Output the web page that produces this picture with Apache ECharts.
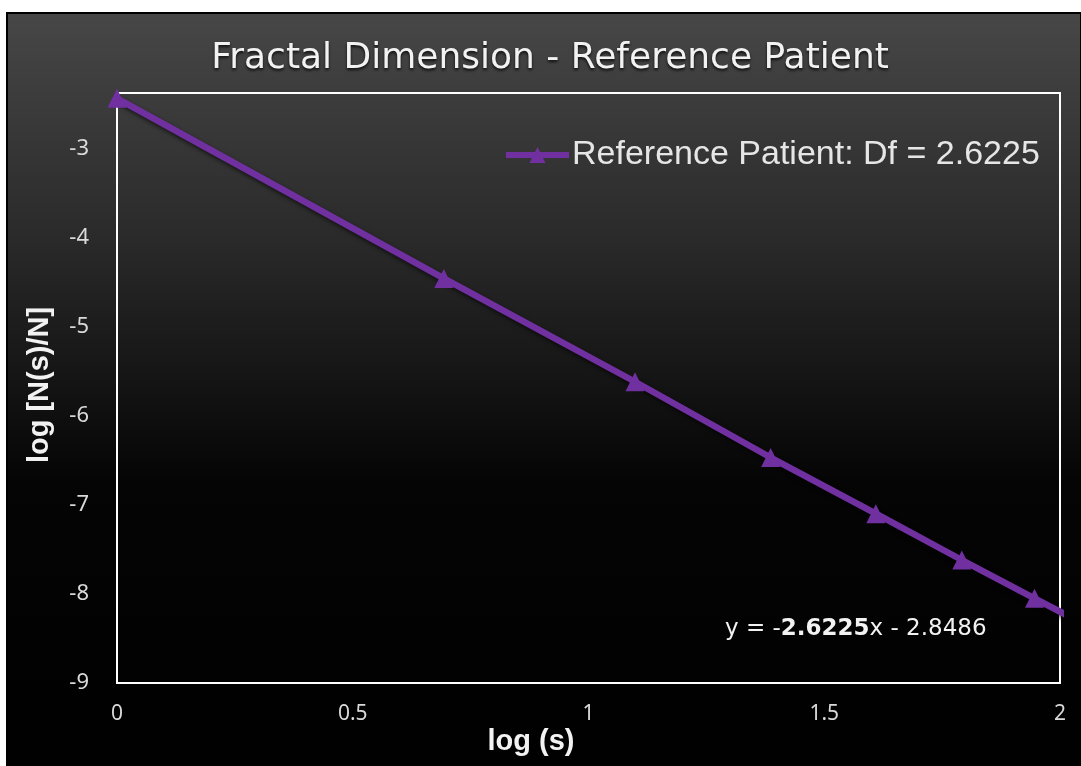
<!DOCTYPE html>
<html>
<head>
<meta charset="utf-8">
<title>Fractal Dimension - Reference Patient</title>
<script src="https://cdn.jsdelivr.net/npm/echarts@6/dist/echarts.min.js"></script>
<style>
  html, body { margin: 0; padding: 0; background: #ffffff; }
  #chart { width: 1081px; height: 766px; }
</style>
</head>
<body>
<div id="chart"></div>
<script>
// log(s) = ln(box size) and log[N(s)/N] for the reference patient
const logS = [0, 0.6931, 1.0986, 1.3863, 1.6094, 1.7918, 1.9459, 2.0794];
const logN = [-2.44, -4.46, -5.62, -6.47, -7.10, -7.62, -8.05, -8.42];
const yTicks = [-9, -8, -7, -6, -5, -4, -3];
const xTicks = [0, 0.5, 1, 1.5, 2];
const seriesName = 'Reference Patient: Df = 2.6225';
const slope = 2.6225;
const intercept = 2.8486;

const chart = echarts.init(document.getElementById('chart'));

const labelColor = '#d9d9d9';
const purple = '#7030a0';

chart.setOption({
  backgroundColor: '#ffffff',
  animation: false,
  title: {
    text: 'Fractal Dimension - Reference Patient',
    left: 545,
    textAlign: 'center',
    top: 36,
    textStyle: {
      color: '#f2f2f2',
      fontFamily: '"DejaVu Sans", sans-serif',
      fontWeight: 'normal',
      fontSize: 36,
      textShadowColor: 'rgba(0,0,0,0.8)',
      textShadowBlur: 3,
      textShadowOffsetY: 2
    }
  },
  legend: {
    left: 503,
    top: 138,
    padding: 0,
    itemWidth: 63,
    itemHeight: 20,
    itemGap: 4,
    data: [seriesName],
    lineStyle: { width: 6 },
    textStyle: {
      color: '#e6e6e6',
      fontFamily: '"Liberation Sans", Arial, sans-serif',
      fontSize: 34,
      padding: [0, 0, 0, -2]
    }
  },
  grid: {
    left: 117,
    top: 93,
    right: 21,
    bottom: 83,
    show: true,
    borderColor: '#ffffff',
    borderWidth: 2,
    backgroundColor: 'transparent'
  },
  xAxis: {
    type: 'value',
    min: xTicks[0],
    max: xTicks[xTicks.length - 1],
    interval: 0.5,
    axisLine: { show: true, lineStyle: { color: '#ffffff', width: 2 } },
    axisTick: { show: false },
    splitLine: { show: false },
    axisLabel: {
      color: labelColor,
      fontFamily: '"Noto Sans", "Open Sans", sans-serif',
      fontSize: 21,
      margin: 21,
      formatter: v => (xTicks.indexOf(v) >= 0 ? String(v) : '')
    }
  },
  yAxis: {
    type: 'value',
    min: -9,
    max: -2.38,
    interval: 1,
    axisLine: { show: true, lineStyle: { color: '#ffffff', width: 2 } },
    axisTick: { show: false },
    splitLine: { show: false },
    axisLabel: {
      color: labelColor,
      fontFamily: '"Noto Sans", "Open Sans", sans-serif',
      fontSize: 22,
      margin: 28,
      formatter: v => (yTicks.indexOf(v) >= 0 ? String(v) : '')
    }
  },
  graphic: [
    {
      type: 'rect',
      z: -100,
      shape: { x: 7, y: 13, width: 1074, height: 753 },
      style: {
        fill: new echarts.graphic.LinearGradient(0, 0, 0, 1, [
          { offset: 0, color: '#474747' },
          { offset: 0.3, color: '#2a2a2a' },
          { offset: 0.62, color: '#050505' },
          { offset: 1, color: '#000000' }
        ]),
        stroke: '#000000',
        lineWidth: 2
      }
    },
    {
      type: 'text',
      x: 531,
      y: 742,
      style: {
        text: 'log (s)',
        fill: '#f2f2f2',
        font: 'bold 29px "Liberation Sans", Arial, sans-serif',
        align: 'center',
        verticalAlign: 'middle'
      }
    },
    {
      type: 'text',
      x: 40,
      y: 385,
      rotation: Math.PI / 2,
      style: {
        text: 'log [N(s)/N]',
        fill: '#f2f2f2',
        font: 'bold 29px "Liberation Sans", Arial, sans-serif',
        align: 'center',
        verticalAlign: 'middle'
      }
    },
    {
      type: 'text',
      x: 725,
      y: 629,
      style: {
        text: '{n|y = -}{b|' + slope.toFixed(4) + '}{n|x - ' + intercept.toFixed(4) + '}',
        verticalAlign: 'middle',
        rich: {
          n: { fill: '#f2f2f2', font: '23px "DejaVu Sans", sans-serif' },
          b: { fill: '#f2f2f2', font: 'bold 23px "DejaVu Sans", sans-serif' }
        }
      }
    }
  ],
  series: [
    {
      name: seriesName,
      type: 'line',
      clip: true,
      data: logS.map((x, i) => [x, logN[i]]),
      symbol: 'triangle',
      symbolSize: 19,
      showAllSymbol: true,
      lineStyle: {
        color: purple,
        width: 6.5,
        shadowColor: 'rgba(0,0,0,0.6)',
        shadowBlur: 4,
        shadowOffsetY: 2
      },
      itemStyle: { color: purple, borderWidth: 0 }
    }
  ]
});
</script>
</body>
</html>
